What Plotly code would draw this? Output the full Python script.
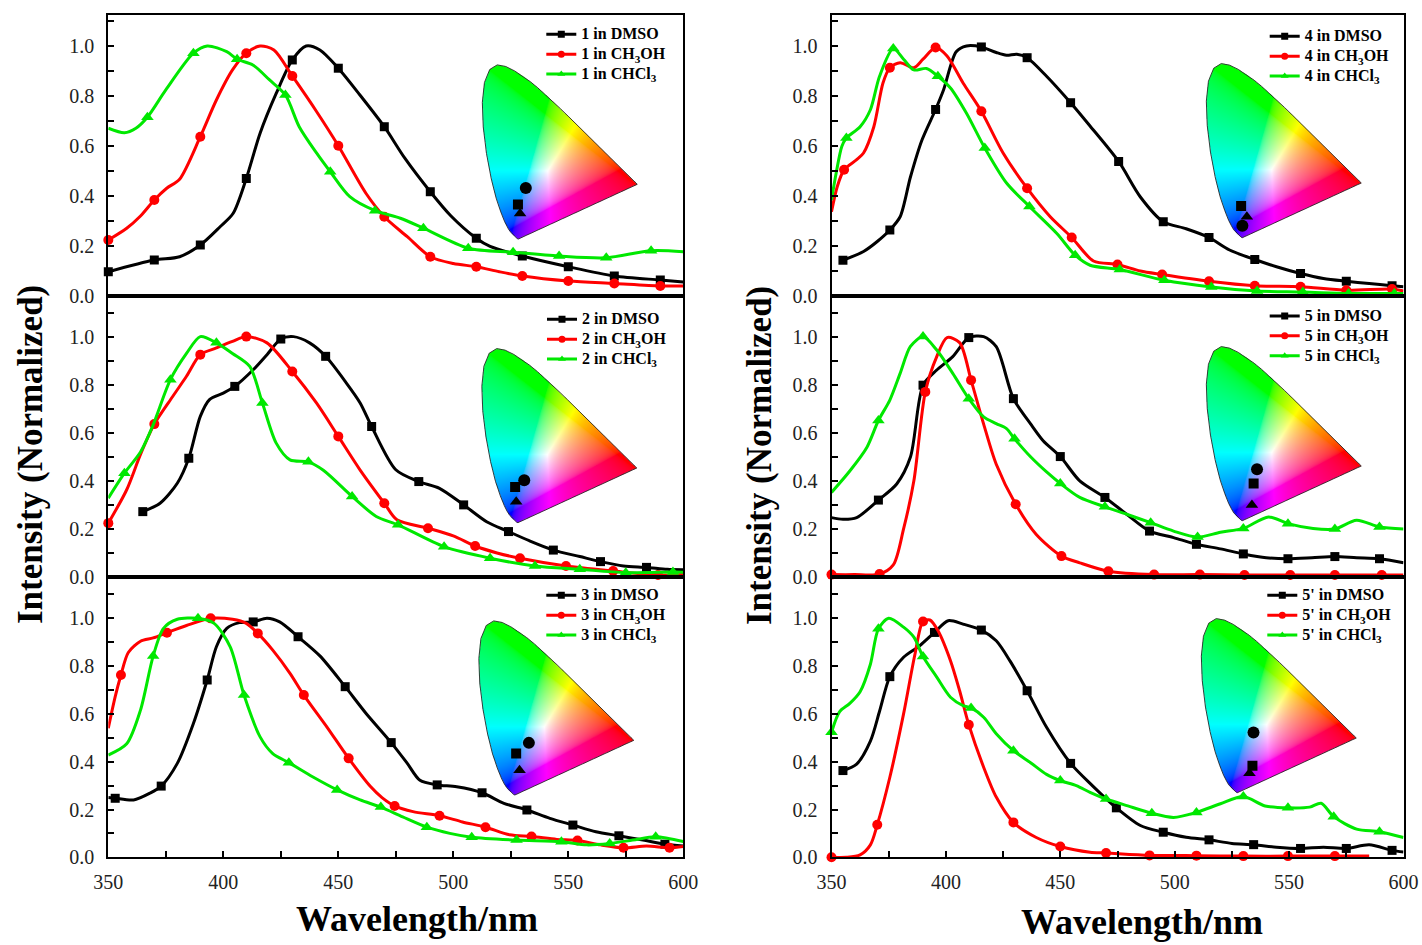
import base64, struct, zlib
import numpy as np
import plotly.graph_objects as go

# ======================= DATA =======================
COMPOUNDS = ["1", "2", "3", "4", "5", "5'"]
SOLVENTS = ["DMSO", "CH<sub>3</sub>OH", "CHCl<sub>3</sub>"]

# ---- compound 1 ----
WL_1_DMSO = [350, 370, 381, 390, 398.6, 404.3, 410, 416, 423, 430, 436, 442, 450, 459.4, 470, 479, 490, 499, 510, 516, 530, 550, 570, 590, 600]
IN_1_DMSO = [0.097, 0.144, 0.157, 0.204, 0.277, 0.331, 0.47, 0.651, 0.81, 0.944, 1.0, 0.984, 0.911, 0.804, 0.677, 0.55, 0.417, 0.32, 0.231, 0.198, 0.16, 0.117, 0.08, 0.064, 0.056]
MK_1_DMSO = [350, 370, 390, 410, 430, 450, 470, 490, 510, 530, 550, 570, 590]
WL_1_MEOH = [350, 358, 364, 370, 375.4, 381, 390, 397, 404, 410, 416, 422, 430, 440.6, 450, 462, 470, 480, 490, 500, 510, 520, 530, 550, 570, 590, 600]
IN_1_MEOH = [0.224, 0.271, 0.32, 0.384, 0.431, 0.467, 0.637, 0.784, 0.904, 0.971, 1.0, 0.984, 0.88, 0.737, 0.601, 0.411, 0.317, 0.237, 0.157, 0.13, 0.117, 0.097, 0.08, 0.06, 0.05, 0.04, 0.04]
MK_1_MEOH = [350, 370, 390, 410, 430, 450, 470, 490, 510, 530, 550, 570, 590]
WL_1_CHCL3 = [350, 357, 362, 367, 375, 387, 393, 401.5, 406, 413, 420, 427, 433, 440.6, 446.5, 455, 466, 477, 487, 506.5, 526, 546, 566.5, 586, 600]
IN_1_CHCL3 = [0.671, 0.653, 0.671, 0.715, 0.824, 0.971, 1.0, 0.977, 0.947, 0.923, 0.865, 0.804, 0.677, 0.571, 0.497, 0.397, 0.341, 0.311, 0.271, 0.191, 0.175, 0.16, 0.153, 0.181, 0.177]
MK_1_CHCL3 = [367, 387, 406, 427, 446.5, 466, 487, 506.5, 526, 546, 566.5, 586]

# ---- compound 2 ----
WL_2_DMSO = [365, 372.5, 380, 385, 390, 394, 400, 405, 413, 419, 425, 430.5, 437.5, 444.5, 453.5, 459.5, 464.5, 475, 485, 494, 504.5, 514.5, 524, 533, 543.5, 555, 564, 574, 584, 593, 600]
IN_2_DMSO = [0.272, 0.307, 0.39, 0.494, 0.668, 0.738, 0.765, 0.793, 0.862, 0.925, 0.99, 1.0, 0.974, 0.918, 0.807, 0.724, 0.626, 0.446, 0.397, 0.369, 0.3, 0.23, 0.189, 0.151, 0.112, 0.085, 0.064, 0.046, 0.04, 0.032, 0.03]
MK_2_DMSO = [365, 385, 405, 425, 444.5, 464.5, 485, 504.5, 524, 543.5, 564, 584]
WL_2_MEOH = [350, 358, 364, 370, 378, 384, 390, 397, 404, 410, 419, 430, 440.5, 450, 459.5, 470, 475.5, 489, 500, 509.5, 519, 529, 549, 569.5, 589, 600]
IN_2_MEOH = [0.224, 0.363, 0.51, 0.636, 0.751, 0.835, 0.925, 0.953, 0.98, 1.0, 0.974, 0.855, 0.724, 0.585, 0.445, 0.307, 0.238, 0.203, 0.171, 0.129, 0.1, 0.078, 0.046, 0.025, 0.008, 0.01]
MK_2_MEOH = [350, 370, 390, 410, 430, 450, 470, 489, 509.5, 529, 549, 569.5, 589]
WL_2_CHCL3 = [350, 357, 364, 369.5, 377, 384, 390, 397, 404, 411.5, 417, 423, 429, 437, 443.5, 456, 466.5, 476, 496, 516, 535.5, 555, 575, 595.5, 600]
IN_2_CHCL3 = [0.328, 0.432, 0.52, 0.633, 0.821, 0.93, 1.0, 0.974, 0.93, 0.876, 0.724, 0.557, 0.4875, 0.479, 0.444, 0.335, 0.252, 0.217, 0.126, 0.078, 0.046, 0.032, 0.018, 0.021, 0.02]
MK_2_CHCL3 = [357, 377, 397, 417, 437, 456, 476, 496, 516, 535.5, 555, 575, 595.5]

# ---- compound 3 ----
WL_3_DMSO = [350, 353, 361, 368, 373, 380, 387, 393, 397, 401.5, 407, 413, 419, 424.5, 432.5, 442, 453, 462, 473, 480, 485.5, 493, 501.5, 512.5, 522, 532, 542, 552, 562, 572, 582.5, 592, 600]
IN_3_DMSO = [0.25, 0.247, 0.24, 0.268, 0.298, 0.393, 0.56, 0.742, 0.881, 0.958, 0.982, 0.985, 1.0, 0.985, 0.923, 0.843, 0.714, 0.603, 0.48, 0.393, 0.322, 0.303, 0.295, 0.27, 0.226, 0.198, 0.163, 0.135, 0.107, 0.09, 0.072, 0.055, 0.047]
MK_3_DMSO = [353, 373, 393, 413, 432.5, 453, 473, 493, 512.5, 532, 552, 572, 592]
WL_3_MEOH = [350, 353, 355.5, 358.7, 364, 369.5, 375.5, 384, 394.5, 404, 410, 415, 421.5, 429, 435, 445, 454.5, 464, 469, 474.5, 482.5, 494, 504, 514, 524.5, 534, 545, 554, 564, 574, 584, 594, 600]
IN_3_MEOH = [0.54, 0.672, 0.763, 0.857, 0.904, 0.918, 0.94, 0.97, 1.0, 0.996, 0.979, 0.937, 0.867, 0.77, 0.679, 0.546, 0.414, 0.296, 0.25, 0.215, 0.191, 0.174, 0.148, 0.126, 0.094, 0.087, 0.075, 0.07, 0.052, 0.04, 0.047, 0.04, 0.045]
MK_3_MEOH = [355.5, 375.5, 394.5, 415, 435, 454.5, 474.5, 494, 514, 534, 554, 574, 594]
WL_3_CHCL3 = [350, 358, 364, 369.5, 374, 380, 389, 396, 403, 409, 416, 421.5, 428.5, 439, 449.5, 459.5, 468.5, 478, 488.5, 498.5, 508, 527.5, 547, 558, 568, 578, 588, 600]
IN_3_CHCL3 = [0.428, 0.475, 0.616, 0.842, 0.958, 0.996, 1.0, 0.979, 0.881, 0.679, 0.504, 0.434, 0.396, 0.336, 0.282, 0.240, 0.21, 0.169, 0.126, 0.1, 0.084, 0.072, 0.065, 0.052, 0.058, 0.072, 0.086, 0.066]
MK_3_CHCL3 = [369.5, 389, 409, 428.5, 449.5, 468.5, 488.5, 508, 527.5, 547, 568, 588]

# ---- compound 4 ----
WL_4_DMSO = [355, 364, 370, 375.5, 380, 384.5, 389.5, 395.5, 399, 404.5, 409, 415.5, 422, 426.5, 431, 435.5, 444, 454.5, 463, 475.5, 485, 495, 505, 515, 524, 535, 544.5, 555, 565, 575, 585, 595, 600]
IN_4_DMSO = [0.143, 0.178, 0.218, 0.264, 0.317, 0.476, 0.623, 0.746, 0.825, 0.977, 1.0, 0.996, 0.974, 0.963, 0.967, 0.953, 0.879, 0.773, 0.68, 0.538, 0.396, 0.297, 0.269, 0.234, 0.184, 0.146, 0.117, 0.09, 0.07, 0.059, 0.05, 0.041, 0.037]
MK_4_DMSO = [355, 375.5, 395.5, 415.5, 435.5, 454.5, 475.5, 495, 515, 535, 555, 575, 595]
WL_4_MEOH = [350, 352.5, 355.5, 361, 364, 368.5, 372.5, 375.5, 380, 386, 390, 395.5, 400.5, 407.5, 415.5, 425, 435.5, 445.5, 455, 464.5, 475, 485, 494.5, 515, 535, 555, 575, 595, 600]
IN_4_MEOH = [0.337, 0.437, 0.505, 0.545, 0.572, 0.677, 0.852, 0.913, 0.933, 0.913, 0.947, 0.994, 0.96, 0.852, 0.739, 0.572, 0.431, 0.318, 0.234, 0.14, 0.126, 0.1, 0.086, 0.059, 0.041, 0.037, 0.023, 0.028, 0.02]
MK_4_MEOH = [355.5, 375.5, 395.5, 415.5, 435.5, 455, 475, 494.5, 515, 535, 555, 575, 595]
WL_4_CHCL3 = [350, 352, 354.5, 356.5, 362.5, 367, 371, 377, 381.5, 386, 391.5, 396.5, 402, 409, 417, 426.5, 436.5, 448.5, 456.5, 463, 476, 495.5, 516, 536, 556, 576, 596, 600]
IN_4_CHCL3 = [0.384, 0.49, 0.598, 0.632, 0.677, 0.745, 0.879, 0.99, 0.947, 0.904, 0.91, 0.879, 0.832, 0.731, 0.592, 0.452, 0.358, 0.25, 0.163, 0.123, 0.106, 0.063, 0.036, 0.02, 0.016, 0.01, 0.01, 0.01]
MK_4_CHCL3 = [356.5, 377, 396.5, 417, 436.5, 456.5, 476, 495.5, 516, 536, 556, 576, 596]

# ---- compound 5 ----
WL_5_DMSO = [350, 355, 361, 370.5, 378.5, 384.5, 390, 396, 403, 410, 416.5, 422, 429.5, 437, 442.5, 450, 458.5, 469.5, 479, 489, 499.5, 509.5, 520, 530, 540, 549.5, 560, 570, 579.5, 589.5, 600]
IN_5_DMSO = [0.247, 0.24, 0.247, 0.32, 0.387, 0.499, 0.798, 0.861, 0.917, 0.996, 1.0, 0.958, 0.742, 0.637, 0.567, 0.501, 0.4, 0.331, 0.261, 0.191, 0.164, 0.136, 0.117, 0.096, 0.08, 0.076, 0.08, 0.085, 0.08, 0.076, 0.059]
MK_5_DMSO = [370.5, 390, 410, 429.5, 450, 469.5, 489, 509.5, 530, 549.5, 570, 589.5]
WL_5_MEOH = [350, 360, 371, 377, 381.5, 386, 391, 396, 400.5, 406, 411, 416.5, 422, 430.5, 439.5, 450.5, 458.5, 471, 491, 511, 530.5, 550.5, 570, 590.5, 600]
IN_5_MEOH = [0.01, 0.01, 0.012, 0.05, 0.2, 0.4, 0.77, 0.917, 0.996, 0.975, 0.819, 0.636, 0.469, 0.303, 0.177, 0.087, 0.059, 0.024, 0.01, 0.01, 0.008, 0.008, 0.008, 0.008, 0.008]
MK_5_MEOH = [350, 371, 391, 411, 430.5, 450.5, 471, 491, 511, 530.5, 550.5, 570, 590.5]
WL_5_CHCL3 = [350, 358, 365.5, 370.5, 375.5, 380, 384.5, 390, 396, 403, 410, 416.5, 422, 426.5, 430, 437, 444, 450, 458.5, 469.5, 479, 489.5, 499.5, 510, 520, 530, 541, 549.5, 560.5, 570, 579.5, 589.5, 600]
IN_5_CHCL3 = [0.352, 0.441, 0.54, 0.651, 0.736, 0.847, 0.959, 1.0, 0.944, 0.847, 0.742, 0.666, 0.638, 0.617, 0.575, 0.5, 0.437, 0.389, 0.331, 0.292, 0.261, 0.226, 0.191, 0.166, 0.186, 0.202, 0.25, 0.222, 0.202, 0.2, 0.236, 0.208, 0.2]
MK_5_CHCL3 = [370.5, 390, 410, 430, 450, 469.5, 489.5, 510, 530, 549.5, 570, 589.5]

# ---- compound 5' ----
WL_5P_DMSO = [355, 361, 367, 371, 375.5, 381.5, 388.5, 395, 401, 407.5, 415.5, 422, 428, 435.5, 444, 454.5, 464, 474.5, 485, 495, 505, 515, 525, 534.5, 544.5, 555, 565, 575, 585, 595, 600]
IN_5P_DMSO = [0.363, 0.39, 0.486, 0.611, 0.756, 0.837, 0.885, 0.941, 0.99, 0.976, 0.951, 0.906, 0.822, 0.697, 0.544, 0.393, 0.3, 0.207, 0.133, 0.105, 0.084, 0.073, 0.058, 0.053, 0.042, 0.037, 0.042, 0.037, 0.052, 0.029, 0.022]
MK_5P_DMSO = [355, 375.5, 395, 415.5, 435.5, 454.5, 474.5, 495, 515, 534.5, 555, 575, 595]
WL_5P_MEOH = [350, 356.5, 362.5, 367, 370, 375.5, 381.5, 386.5, 390, 393, 396.5, 402, 406, 410, 416.5, 422, 429.5, 439.5, 450, 463, 470, 489, 509.5, 530, 549.5, 570, 585]
IN_5P_MEOH = [0.0, 0.0, 0.01, 0.052, 0.136, 0.335, 0.6, 0.851, 0.987, 0.993, 0.949, 0.823, 0.697, 0.555, 0.377, 0.252, 0.146, 0.083, 0.045, 0.021, 0.018, 0.008, 0.007, 0.005, 0.005, 0.005, 0.005]
MK_5P_MEOH = [350, 370, 390, 410, 429.5, 450, 470, 489, 509.5, 530, 549.5, 570]
WL_5P_CHCL3 = [350, 353.5, 358, 362.5, 367, 370.5, 375, 381.5, 386, 390, 396, 402, 407.5, 411, 416.5, 422, 429.5, 437, 444, 450, 457, 463, 470, 479.5, 490, 499.5, 509.5, 520, 530, 539.5, 549.5, 559, 564, 569.5, 579.5, 589.5, 600]
IN_5P_CHCL3 = [0.523, 0.609, 0.644, 0.693, 0.808, 0.956, 1.0, 0.963, 0.921, 0.84, 0.754, 0.67, 0.635, 0.625, 0.586, 0.517, 0.446, 0.396, 0.347, 0.321, 0.3, 0.272, 0.244, 0.215, 0.184, 0.167, 0.188, 0.224, 0.254, 0.215, 0.207, 0.21, 0.226, 0.17, 0.118, 0.107, 0.083]
MK_5P_CHCL3 = [350, 370.5, 390, 411, 429.5, 450, 470, 490, 509.5, 530, 549.5, 569.5, 589.5]

# ---- CIE 1931 chromaticity of each emission (order: DMSO, CH3OH, CHCl3) ----
CIE_X_1 = [0.172, 0.209, 0.182]; CIE_Y_1 = [0.169, 0.248, 0.126]
CIE_X_2 = [0.161, 0.204, 0.166]; CIE_Y_2 = [0.175, 0.207, 0.104]
CIE_X_3 = [0.180, 0.240, 0.196]; CIE_Y_3 = [0.202, 0.253, 0.123]
CIE_X_4 = [0.168, 0.174, 0.195]; CIE_Y_4 = [0.156, 0.062, 0.104]
CIE_X_5 = [0.227, 0.243, 0.219]; CIE_Y_5 = [0.182, 0.250, 0.079]
CIE_X_5P = [0.245, 0.250, 0.231]; CIE_Y_5P = [0.133, 0.291, 0.097]

# ---- CIE 1931 2-degree spectral locus (380-700 nm) ----
LOCUS_X = [0.1741, 0.1740, 0.1738, 0.1736, 0.1733, 0.1730, 0.1726, 0.1721, 0.1714, 0.1703, 0.1689, 0.1669, 0.1644, 0.1611,
           0.1566, 0.1510, 0.1440, 0.1355, 0.1241, 0.1096, 0.0913, 0.0687, 0.0454, 0.0235, 0.0082, 0.0039, 0.0139, 0.0389,
           0.0743, 0.1142, 0.1547, 0.1929, 0.2296, 0.2658, 0.3016, 0.3373, 0.3731, 0.4087, 0.4441, 0.4788, 0.5125, 0.5448,
           0.5752, 0.6029, 0.6270, 0.6482, 0.6658, 0.6801, 0.6915, 0.7006, 0.7079, 0.7140, 0.7190, 0.7230, 0.7260, 0.7283,
           0.7300, 0.7311, 0.7320, 0.7334, 0.7344, 0.7347]
LOCUS_Y = [0.0050, 0.0050, 0.0049, 0.0049, 0.0048, 0.0048, 0.0048, 0.0048, 0.0051, 0.0058, 0.0069, 0.0086, 0.0109, 0.0138,
           0.0177, 0.0227, 0.0297, 0.0399, 0.0578, 0.0868, 0.1327, 0.2007, 0.2950, 0.4127, 0.5384, 0.6548, 0.7502, 0.8120,
           0.8338, 0.8262, 0.8059, 0.7816, 0.7543, 0.7243, 0.6923, 0.6589, 0.6245, 0.5896, 0.5547, 0.5202, 0.4866, 0.4544,
           0.4242, 0.3965, 0.3725, 0.3514, 0.3340, 0.3197, 0.3083, 0.2993, 0.2920, 0.2859, 0.2809, 0.2770, 0.2740, 0.2717,
           0.2700, 0.2689, 0.2680, 0.2666, 0.2656, 0.2653]

PANELS = [
    ("1", [(WL_1_DMSO, IN_1_DMSO, MK_1_DMSO), (WL_1_MEOH, IN_1_MEOH, MK_1_MEOH), (WL_1_CHCL3, IN_1_CHCL3, MK_1_CHCL3)], CIE_X_1, CIE_Y_1),
    ("2", [(WL_2_DMSO, IN_2_DMSO, MK_2_DMSO), (WL_2_MEOH, IN_2_MEOH, MK_2_MEOH), (WL_2_CHCL3, IN_2_CHCL3, MK_2_CHCL3)], CIE_X_2, CIE_Y_2),
    ("3", [(WL_3_DMSO, IN_3_DMSO, MK_3_DMSO), (WL_3_MEOH, IN_3_MEOH, MK_3_MEOH), (WL_3_CHCL3, IN_3_CHCL3, MK_3_CHCL3)], CIE_X_3, CIE_Y_3),
    ("4", [(WL_4_DMSO, IN_4_DMSO, MK_4_DMSO), (WL_4_MEOH, IN_4_MEOH, MK_4_MEOH), (WL_4_CHCL3, IN_4_CHCL3, MK_4_CHCL3)], CIE_X_4, CIE_Y_4),
    ("5", [(WL_5_DMSO, IN_5_DMSO, MK_5_DMSO), (WL_5_MEOH, IN_5_MEOH, MK_5_MEOH), (WL_5_CHCL3, IN_5_CHCL3, MK_5_CHCL3)], CIE_X_5, CIE_Y_5),
    ("5'", [(WL_5P_DMSO, IN_5P_DMSO, MK_5P_DMSO), (WL_5P_MEOH, IN_5P_MEOH, MK_5P_MEOH), (WL_5P_CHCL3, IN_5P_CHCL3, MK_5P_CHCL3)], CIE_X_5P, CIE_Y_5P),
]

# ======================= STYLE / LAYOUT =======================
W, H = 1422, 945
COLORS = ["#000000", "#ff0000", "#00e800"]
SYMBOLS = ["square", "circle", "triangle-up"]
MSIZES = [9, 10, 11]
FONT = "Liberation Serif"

COL_X = [(108.3, 683.3), (831.5, 1403.5)]
ROW_Y = [(14.7, 296.0), (296.0, 577.0), (577.0, 857.3)]
Y_MAX = [1.125, 1.169, 1.173]
# legend: (line start x px, first row centre y px)
LEG_POS = [(547.3, 32.3), (548.0, 317.3), (547.3, 593.3), (1270.7, 34.3), (1270.7, 314.0), (1268.3, 593.3)]
# CIE inset origin (pixel of chromaticity (0,0)) and scale
CIE_ORG = [(481.5, 240.0), (481.0, 523.7), (478.0, 796.0), (1205.5, 238.7), (1205.5, 521.7), (1200.5, 793.7)]
CIE_SX, CIE_SY = 212.0, 210.0


def fx(p):
    return p / W


def fy(p):
    return 1 - p / H


# ---------- CIE diagram bitmap ----------
def inside_poly(px, py, vx, vy):
    res = np.zeros(px.shape, dtype=bool)
    n = len(vx)
    j = n - 1
    for i in range(n):
        xi, yi, xj, yj = vx[i], vy[i], vx[j], vy[j]
        cond = ((yi > py) != (yj > py)) & (px < (xj - xi) * (py - yi) / ((yj - yi) if yj != yi else 1e-12) + xi)
        res ^= cond
        j = i
    return res


def make_cie_png():
    nx, ny = 375, 425
    xs = (np.arange(nx) + 0.5) * 0.75 / nx
    ys = 0.85 - (np.arange(ny) + 0.5) * 0.85 / ny
    X, Y = np.meshgrid(xs, ys)
    Yc = np.maximum(Y, 1e-4)
    Xt = X / Yc
    Zt = (1 - X - Y) / Yc
    R = 3.2406 * Xt - 1.5372 - 0.4986 * Zt
    G = -0.9689 * Xt + 1.8758 + 0.0415 * Zt
    B = 0.0557 * Xt - 0.2040 + 1.0570 * Zt
    rgb = np.clip(np.stack([R, G, B], axis=-1), 0, None)
    rgb = rgb / np.maximum(rgb.max(axis=-1, keepdims=True), 1e-9)
    rgb = rgb ** (1 / 2.2)
    mask = inside_poly(X, Y, LOCUS_X, LOCUS_Y)
    rgba = np.zeros((ny, nx, 4), dtype=np.uint8)
    rgba[..., :3] = (rgb * 255).astype(np.uint8)
    rgba[..., 3] = np.where(mask, 255, 0)
    raw = np.concatenate([np.zeros((ny, 1), np.uint8), rgba.reshape(ny, nx * 4)], axis=1).tobytes()

    def chunk(t, d):
        return struct.pack(">I", len(d)) + t + d + struct.pack(">I", zlib.crc32(t + d) & 0xffffffff)

    png = (b"\x89PNG\r\n\x1a\n" + chunk(b"IHDR", struct.pack(">IIBBBBB", nx, ny, 8, 6, 0, 0, 0))
           + chunk(b"IDAT", zlib.compress(raw, 9)) + chunk(b"IEND", b""))
    return "data:image/png;base64," + base64.b64encode(png).decode()


CIE_URI = make_cie_png()

fig = go.Figure()
layout = dict(
    width=W, height=H, margin=dict(l=0, r=0, t=0, b=0, autoexpand=False),
    paper_bgcolor="white", plot_bgcolor="rgba(0,0,0,0)",
    font=dict(family=FONT, color="#111"), showlegend=True,
    annotations=[], images=[],
)

for k, (cmp, series, cx, cy) in enumerate(PANELS):
    n = k + 1
    col, row = k // 3, k % 3
    xa = "x" if n == 1 else f"x{n}"
    ya = "y" if n == 1 else f"y{n}"
    leg = "legend" if n == 1 else f"legend{n}"
    bottom = row == 2
    (x0, x1), (y0, y1) = COL_X[col], ROW_Y[row]

    layout["xaxis" if n == 1 else f"xaxis{n}"] = dict(
        domain=[fx(x0), fx(x1)], range=[350, 600], anchor=ya, automargin=False,
        showline=True, mirror=True, linecolor="black", linewidth=2,
        showgrid=False, zeroline=False,
        ticks="inside" if bottom else "", tick0=350, dtick=50, ticklen=6, tickwidth=2, tickcolor="black",
        minor=dict(dtick=25, tick0=350, ticks="inside" if bottom else "", ticklen=6, tickwidth=2, tickcolor="black"),
        showticklabels=bottom, tickfont=dict(family=FONT, size=20, color="#222"), ticklabelstandoff=6,
    )
    layout["yaxis" if n == 1 else f"yaxis{n}"] = dict(
        domain=[fy(y1), fy(y0)], range=[0, Y_MAX[row]], anchor=xa, automargin=False,
        showline=True, mirror=True, linecolor="black", linewidth=2,
        showgrid=False, zeroline=False,
        ticks="inside", tick0=0, dtick=0.2, ticklen=6, tickwidth=2, tickcolor="black", tickformat=".1f",
        minor=dict(dtick=0.1, tick0=0, ticks="inside", ticklen=6, tickwidth=2, tickcolor="black"),
        tickfont=dict(family=FONT, size=20, color="#222"), ticklabelstandoff=8,
    )

    for s, (wl, inten, mk) in enumerate(series):
        fig.add_trace(go.Scatter(
            x=wl, y=inten, mode="lines+markers", xaxis=xa, yaxis=ya, showlegend=False, cliponaxis=False,
            line=dict(color=COLORS[s], width=3, shape="spline", smoothing=0.8),
            marker=dict(symbol=SYMBOLS[s], color=COLORS[s], opacity=1, line=dict(width=0),
                        size=[MSIZES[s] if w in mk else 0 for w in wl]),
            hoverinfo="x+y",
        ))
    for s in range(3):
        fig.add_trace(go.Scatter(
            x=[None], y=[None], mode="lines+markers", xaxis=xa, yaxis=ya, legend=leg,
            name=f"<span style='font-size:16px'>{cmp} in {SOLVENTS[s]}</span>",
            line=dict(color=COLORS[s], width=3), marker=dict(symbol=SYMBOLS[s], color=COLORS[s], size=7),
        ))
    lx, ly = LEG_POS[k]
    layout[leg] = dict(
        x=fx(lx - 6), y=fy(ly - 13), xanchor="left", yanchor="top",
        bgcolor="rgba(0,0,0,0)", borderwidth=0, tracegroupgap=0, itemwidth=30,
        font=dict(family=FONT, size=13, color="black", weight="bold"),
    )

    # ---- CIE inset ----
    m = n + 6
    ox, oy = CIE_ORG[k]
    layout[f"xaxis{m}"] = dict(domain=[fx(ox - 0.02 * CIE_SX), fx(ox + 0.78 * CIE_SX)], range=[-0.02, 0.78],
                               anchor=f"y{m}", visible=False, fixedrange=True, automargin=False)
    layout[f"yaxis{m}"] = dict(domain=[fy(oy + 0.02 * CIE_SY), fy(oy - 0.88 * CIE_SY)], range=[-0.02, 0.88],
                               anchor=f"x{m}", visible=False, fixedrange=True, automargin=False)
    layout["images"].append(dict(source=CIE_URI, xref=f"x{m}", yref=f"y{m}", x=0, y=0.85, sizex=0.75, sizey=0.85,
                                 xanchor="left", yanchor="top", sizing="stretch", layer="below"))
    fig.add_trace(go.Scatter(
        x=LOCUS_X + [LOCUS_X[0]], y=LOCUS_Y + [LOCUS_Y[0]], mode="lines", xaxis=f"x{m}", yaxis=f"y{m}",
        line=dict(color="rgba(30,30,30,0.85)", width=1), showlegend=False, hoverinfo="skip",
    ))
    fig.add_trace(go.Scatter(
        x=cx, y=cy, mode="markers", xaxis=f"x{m}", yaxis=f"y{m}", showlegend=False,
        marker=dict(symbol=SYMBOLS, size=[10, 12, 11], color="black", opacity=1, line=dict(width=0)),
    ))

# axis titles
for xc in (31, 760):
    layout["annotations"].append(dict(text="Intensity (Normalized)", x=fx(xc), y=fy(455), xref="paper", yref="paper",
                                      textangle=-90, showarrow=False, xanchor="center", yanchor="middle",
                                      font=dict(family=FONT, size=35, color="black", weight="bold")))
for xc, yc in ((417, 919), (1142, 922)):
    layout["annotations"].append(dict(text="Wavelength/nm", x=fx(xc), y=fy(yc), xref="paper", yref="paper",
                                      showarrow=False, xanchor="center", yanchor="middle",
                                      font=dict(family=FONT, size=36, color="black", weight="bold")))

fig.update_layout(**layout)
fig.write_html("out.html")
